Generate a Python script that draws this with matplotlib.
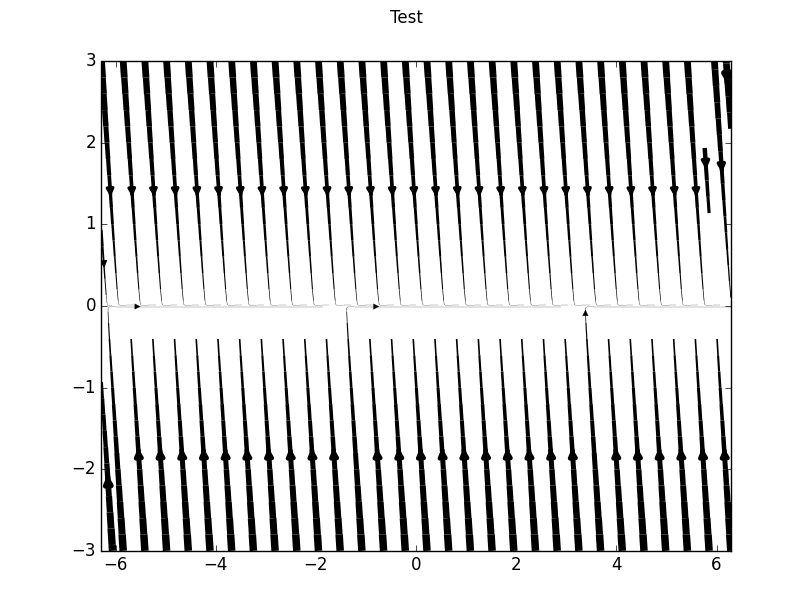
import matplotlib
matplotlib.use('Agg')
import matplotlib.pyplot as plt
import numpy as np

plt.style.use('classic')

# grid nodes (field does not change along x)
x = [-2 * np.pi, 0.0, 2 * np.pi]
y = [-3.0, -1.5, 0.0, 1.5, 3.0]

# velocity profile along y
u_col = [-0.32, -0.16, 0.004, 0.165, 0.33]
v_col = [3.0, 1.5, 0.0, -1.5, -3.0]
# line width profile along y (points)
lw_col = [5.4, 2.7, 0.15, 2.5, 4.9]

U = np.tile(np.array(u_col)[:, None], (1, len(x)))
V = np.tile(np.array(v_col)[:, None], (1, len(x)))
LW = np.tile(np.array(lw_col)[:, None], (1, len(x)))

fig = plt.figure(figsize=(8.12, 6.12), dpi=100)
ax = fig.add_subplot(111)
ax.streamplot(np.array(x), np.array(y), U, V, color='k', linewidth=LW)
ax.set_xlim(x[0], x[-1])
ax.set_ylim(y[0], y[-1])
fig.suptitle('Test', y=0.985)

fig.savefig('out.png', dpi=100)
